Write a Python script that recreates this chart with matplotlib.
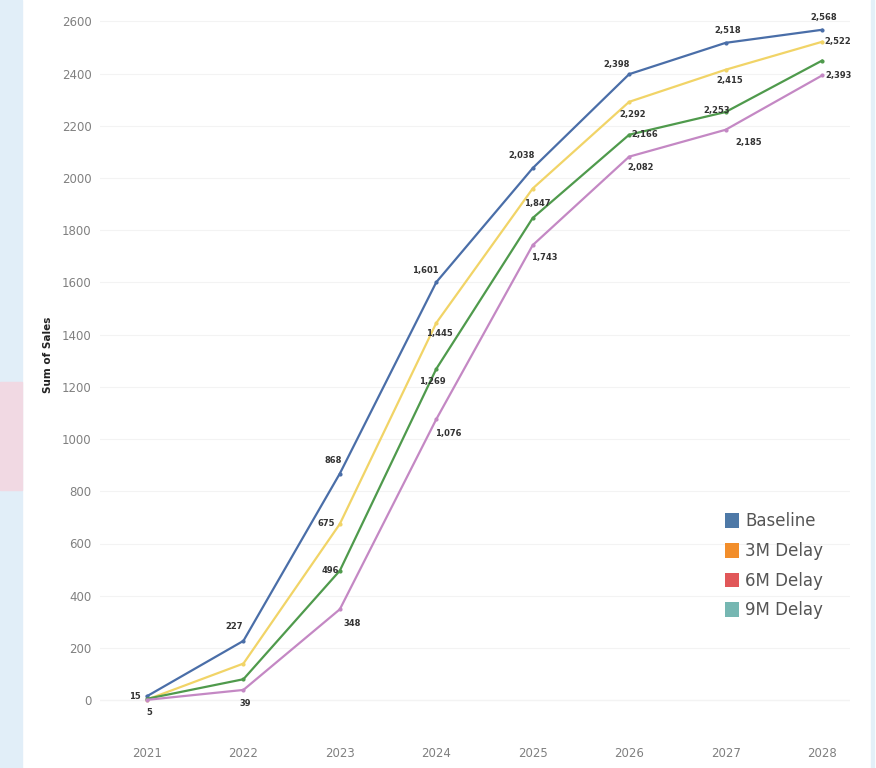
import matplotlib.pyplot as plt
from matplotlib.patches import Patch, Rectangle

# sales scenarios by year
years = [2021, 2022, 2023, 2024, 2025, 2026, 2027, 2028]
baseline = [15, 227, 868, 1601, 2038, 2398, 2518, 2568]
delay_3m = [2, 140, 675, 1445, 1960, 2292, 2415, 2522]
delay_6m = [5, 80, 496, 1269, 1847, 2166, 2253, 2450]
delay_9m = [1, 39, 348, 1076, 1743, 2082, 2185, 2393]

legend_names = ['Baseline', '3M Delay', '6M Delay', '9M Delay']
legend_colors = ['#4e79a7', '#f28e2b', '#e15759', '#76b7b2']

series = [
    (baseline, '#4a6ea8'),
    (delay_3m, '#f1d467'),
    (delay_6m, '#4f9a4c'),
    (delay_9m, '#c488c4'),
]

# which points get a value label: (index, dx, dy, ha) in pixels
label_spots = [
    [(0, -6, 0, 'right'), (1, -9, 14, 'center'), (2, -7, 13, 'center'),
     (3, -11, 12, 'center'), (4, -11, 13, 'center'), (5, -13, 10, 'center'),
     (6, 2, 12, 'center'), (7, 2, 12, 'center')],
    [(2, -14, 0, 'center'), (3, 3, -11, 'center'), (5, 4, -13, 'center'),
     (6, 4, -11, 'center'), (7, 2, 0, 'left')],
    [(0, 2, -14, 'center'), (2, -10, 0, 'center'), (3, -4, -13, 'center'),
     (4, 5, 14, 'center'), (5, 2, 0, 'left'), (6, -9, 2, 'center')],
    [(1, 2, -14, 'center'), (2, 12, -14, 'center'), (3, 12, -14, 'center'),
     (4, 12, -12, 'center'), (5, 11, -11, 'center'), (6, 23, -13, 'center'),
     (7, 3, 0, 'left')],
]

fig = plt.figure(figsize=(8.76, 7.68), dpi=100)

# pale strip down the left edge and a hairline on the right
fig.patches.append(Rectangle((0, 0), 22 / 876, 1, transform=fig.transFigure,
                             color='#e1eef8', zorder=0))
fig.patches.append(Rectangle((0, 278 / 768), 22 / 876, 108 / 768, transform=fig.transFigure,
                             color='#f1d9e3', zorder=0))
fig.patches.append(Rectangle((871 / 876, 0), 3 / 876, 1, transform=fig.transFigure,
                             color='#e3f0f8', zorder=0))

ax = fig.add_axes([100 / 876, 47 / 768, 750 / 876, 710 / 768])

for (vals, col), spots in zip(series, label_spots):
    ax.plot(years, vals, color=col, lw=1.6, marker='o', markersize=2)
    for i, dx, dy, ha in spots:
        ax.annotate(f'{vals[i]:,}', (years[i], vals[i]), xytext=(dx, dy),
                    textcoords='offset pixels', ha=ha, va='center',
                    fontsize=6, fontweight='bold', color='#333333')

ax.set_xlim(2020.513, 2028.29)
ax.set_ylim(-80, 2640)
ax.set_xticks(years)
ax.set_yticks(range(0, 2601, 200))
ax.tick_params(length=0, colors='#808080', labelsize=8.5)
ax.tick_params(axis='x', pad=19)
ax.tick_params(axis='y', pad=6)
ax.grid(axis='y', color='#f3f3f3', lw=0.8)
ax.axhline(0, color='#ececec', lw=0.8, zorder=0)
for s in ax.spines.values():
    s.set_visible(False)

fig.text(48 / 876, 1 - 355 / 768, 'Sum of Sales', rotation=90, ha='center', va='center',
         fontsize=7.5, fontweight='bold', color='#222222')

handles = [Patch(facecolor=c, edgecolor='none') for c in legend_colors]
ax.legend(handles, legend_names, loc='upper left', bbox_to_anchor=(610 / 750, 0.315),
          frameon=False, fontsize=12, labelcolor='#555555', handlelength=0.85,
          handleheight=1.0, handletextpad=0.35, labelspacing=0.7)

fig.savefig('out.png', dpi=100)
